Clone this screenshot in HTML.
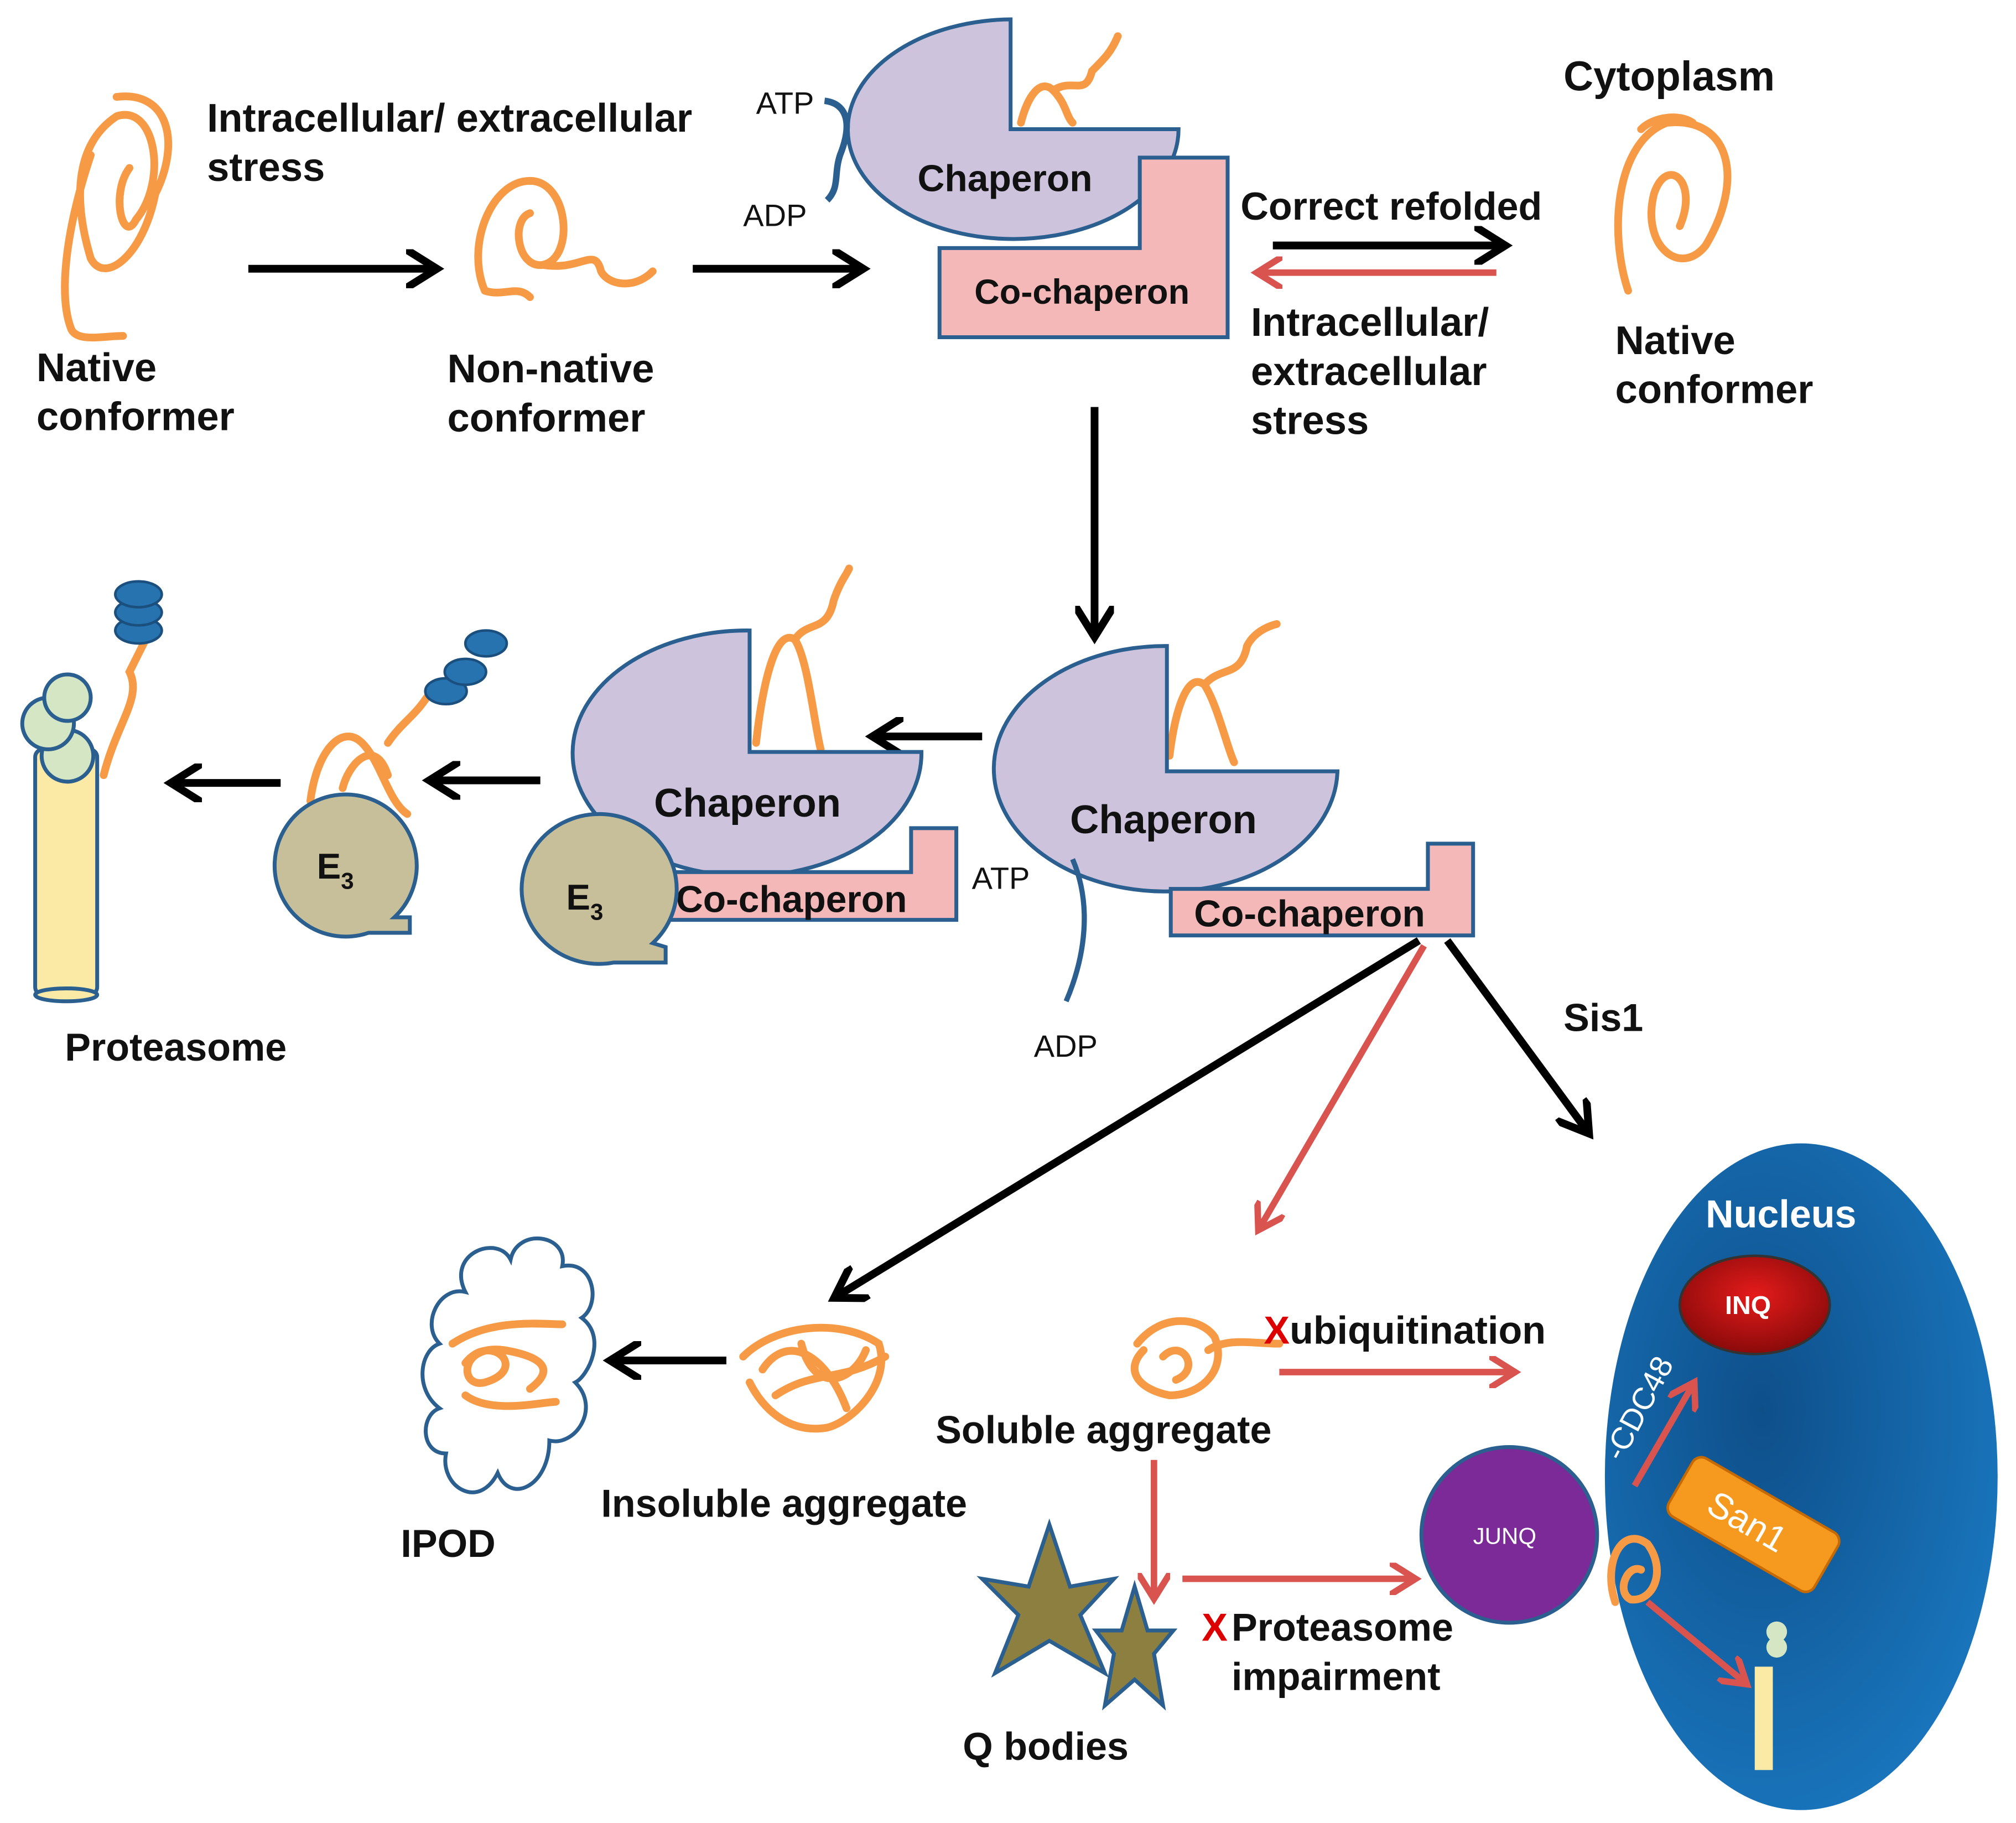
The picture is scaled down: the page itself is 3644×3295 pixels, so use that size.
<!DOCTYPE html>
<html><head><meta charset="utf-8"><style>
html,body{margin:0;padding:0;background:#fff}
svg{display:block}
text{font-family:"Liberation Sans",sans-serif;font-weight:bold;fill:#111}
.n{font-weight:normal}
</style></head><body>
<svg width="3644" height="3295" viewBox="0 0 1560 1411" xmlns="http://www.w3.org/2000/svg">
<defs>
<marker id="ab" viewBox="0 0 10 10" refX="7" refY="5" markerWidth="5" markerHeight="5" orient="auto"><path d="M0,0 L8,5 L0,10" fill="none" stroke="#000" stroke-width="2"/></marker>
<marker id="ar" viewBox="0 0 10 10" refX="7" refY="5" markerWidth="5" markerHeight="5" orient="auto"><path d="M0,0 L8,5 L0,10" fill="none" stroke="#d9534f" stroke-width="2"/></marker>
<radialGradient id="nuc" cx="0.4" cy="0.4" r="0.7"><stop offset="0" stop-color="#0e4f8a"/><stop offset="1" stop-color="#1a78c0"/></radialGradient>
<radialGradient id="inq" cx="0.5" cy="0.4" r="0.6"><stop offset="0" stop-color="#e51b1b"/><stop offset="1" stop-color="#8a0a0a"/></radialGradient>
</defs>
<g stroke="#f79a46" stroke-width="6" fill="none" stroke-linecap="round">
<path d="M90,75 C130,70 140,110 120,150 C110,200 80,220 70,200 C55,150 60,110 90,90 C120,80 130,140 105,170 C95,190 85,150 100,130 M70,120 C50,180 45,230 55,255 C60,265 80,260 95,260"/>
<path d="M375,225 C360,190 380,140 410,140 C440,140 445,200 420,205 C400,208 395,170 410,165 M420,205 C450,210 460,190 465,210 C470,220 490,225 505,210 M375,225 C390,230 400,220 410,230"/>
<path d="M1260,225 C1245,180 1250,110 1290,95 C1340,90 1350,140 1320,190 C1300,215 1270,190 1280,150 C1290,120 1315,140 1300,175 M1270,100 C1280,90 1300,88 1310,95"/>
<path d="M790,95 C795,75 805,60 815,70 C825,80 825,90 830,95 M815,70 C830,60 840,75 845,55 C855,45 860,40 865,28"/>
<path d="M585,575 C590,530 600,485 615,495 C625,510 630,560 635,580 M615,495 C625,480 640,490 645,465 C650,450 655,445 657,440"/>
<path d="M905,585 C910,545 920,520 932,530 C942,545 950,580 955,590 M932,530 C945,515 960,525 965,500 C970,490 980,485 988,483"/>
<path d="M240,620 C245,580 265,560 280,575 C295,590 300,620 315,630 M265,610 C270,590 290,570 300,600 M300,575 C310,560 320,555 330,540"/>
<path d="M80,600 C90,560 110,540 100,520 C105,510 110,500 115,490"/>
<path d="M350,1040 C380,1020 420,1025 435,1025 M360,1055 C380,1030 410,1060 375,1070 C355,1075 355,1040 390,1045 C420,1050 430,1060 410,1075 M360,1080 C380,1095 420,1085 430,1085"/>
<path d="M575,1050 C600,1025 650,1020 680,1040 C690,1070 660,1100 640,1105 C610,1110 590,1090 580,1070 M590,1060 C610,1030 640,1050 655,1090 M620,1040 C630,1080 660,1070 670,1045 M600,1080 C630,1060 650,1070 685,1050"/>
<path d="M880,1040 C900,1015 930,1020 940,1035 C950,1060 930,1080 905,1080 C880,1075 870,1060 885,1045 M900,1050 C915,1035 930,1060 910,1068 M935,1045 C950,1035 970,1040 990,1040"/>
</g>
<!-- top chaperon -->
<path d="M782,15 L782,100 L912,100 A128,85 0 1,1 782,15 Z" fill="#cdc3dd" stroke="#2a5f8f" stroke-width="3"/>
<path d="M727,192 L882,192 L882,122 L950,122 L950,261 L727,261 Z" fill="#f4b8b8" stroke="#2a5f8f" stroke-width="3"/>
<text x="710" y="148" font-size="29">Chaperon</text>
<text x="754" y="235" font-size="27">Co-chaperon</text>
<path d="M638,78 C655,80 660,95 650,120 C645,135 650,145 640,155" stroke="#2a5f8f" stroke-width="5" fill="none"/>
<text x="585" y="88" font-size="24" class="n">ATP</text>
<text x="575" y="175" font-size="24" class="n">ADP</text>
<!-- top texts -->
<text font-size="31"><tspan x="160" y="102">Intracellular/ extracellular</tspan><tspan x="160" y="140">stress</tspan></text>
<text font-size="31"><tspan x="28" y="295">Native</tspan><tspan x="28" y="333">conformer</tspan></text>
<text font-size="31"><tspan x="346" y="296">Non-native</tspan><tspan x="346" y="334">conformer</tspan></text>
<text x="1210" y="70" font-size="32">Cytoplasm</text>
<text x="960" y="170" font-size="30">Correct refolded</text>
<text font-size="31"><tspan x="968" y="260">Intracellular/</tspan><tspan x="968" y="298">extracellular</tspan><tspan x="968" y="336">stress</tspan></text>
<text font-size="31"><tspan x="1250" y="274">Native</tspan><tspan x="1250" y="312">conformer</tspan></text>
<g stroke="#000" stroke-width="6" fill="none">
<line x1="192" y1="208" x2="335" y2="208" marker-end="url(#ab)"/>
<line x1="536" y1="208" x2="665" y2="208" marker-end="url(#ab)"/>
<line x1="985" y1="190" x2="1162" y2="190" marker-end="url(#ab)"/>
<line x1="847" y1="315" x2="847" y2="490" marker-end="url(#ab)"/>
<line x1="760" y1="570" x2="678" y2="570" marker-end="url(#ab)"/>
<line x1="418" y1="604" x2="335" y2="604" marker-end="url(#ab)"/>
<line x1="217" y1="606" x2="135" y2="606" marker-end="url(#ab)"/>
<line x1="1098" y1="728" x2="648" y2="1003" marker-end="url(#ab)"/>
<line x1="1120" y1="728" x2="1228" y2="875" marker-end="url(#ab)"/>
<line x1="562" y1="1053" x2="475" y2="1053" marker-end="url(#ab)"/>
</g>
<g stroke="#d9534f" stroke-width="5" fill="none">
<line x1="1158" y1="211" x2="975" y2="211" marker-end="url(#ar)"/>
<line x1="1102" y1="732" x2="975" y2="950" marker-end="url(#ar)"/>
<line x1="990" y1="1062" x2="1170" y2="1062" marker-end="url(#ar)"/>
<line x1="893" y1="1130" x2="893" y2="1235" marker-end="url(#ar)"/>
<line x1="915" y1="1222" x2="1093" y2="1222" marker-end="url(#ar)"/>
</g>
<!-- middle right chaperon -->
<path d="M903,500 L903,597 L1035,597 A133,95 0 1,1 903,500 Z" fill="#cdc3dd" stroke="#2a5f8f" stroke-width="3"/>
<path d="M906,688 L1105,688 L1105,653 L1140,653 L1140,724 L906,724 Z" fill="#f4b8b8" stroke="#2a5f8f" stroke-width="3"/>
<text x="828" y="645" font-size="31">Chaperon</text>
<text x="924" y="717" font-size="29">Co-chaperon</text>
<path d="M830,665 C845,700 840,740 825,775" stroke="#2a5f8f" stroke-width="4" fill="none"/>
<text x="752" y="688" font-size="24" class="n">ATP</text>
<text x="800" y="818" font-size="24" class="n">ADP</text>
<!-- middle left chaperon -->
<path d="M580,488 L580,582 L713,582 A135,95 0 1,1 580,488 Z" fill="#cdc3dd" stroke="#2a5f8f" stroke-width="3"/>
<path d="M503,675 L705,675 L705,641 L740,641 L740,712 L503,712 Z" fill="#f4b8b8" stroke="#2a5f8f" stroke-width="3"/>
<text x="506" y="632" font-size="31">Chaperon</text>
<text x="523" y="706" font-size="29">Co-chaperon</text>
<path d="M505,730 A60,58 0 1,0 475,745 L515,745 L515,733 Z" fill="#c7bf99" stroke="#2a5f8f" stroke-width="3"/>
<text x="438" y="704" font-size="28">E<tspan font-size="18" dy="8">3</tspan></text>
<path d="M305,710 A55,55 0 1,0 285,722 L317,722 L317,710 Z" fill="#c7bf99" stroke="#2a5f8f" stroke-width="3"/>
<text x="245" y="680" font-size="28">E<tspan font-size="18" dy="8">3</tspan></text>
<!-- ubiquitin -->
<g fill="#2673b0" stroke="#1b4f7e" stroke-width="2">
<ellipse cx="107" cy="488" rx="18" ry="10"/><ellipse cx="107" cy="474" rx="18" ry="10"/><ellipse cx="107" cy="460" rx="18" ry="10"/>
<ellipse cx="345" cy="535" rx="16" ry="10"/><ellipse cx="360" cy="520" rx="16" ry="10"/><ellipse cx="376" cy="498" rx="16" ry="10"/>
</g>
<!-- proteasome -->
<rect x="27" y="580" width="48" height="190" rx="6" fill="#fbe9a6" stroke="#2a5f8f" stroke-width="3"/>
<ellipse cx="51" cy="770" rx="24" ry="5" fill="#fbe9a6" stroke="#2a5f8f" stroke-width="3"/>
<g fill="#d5e6c4" stroke="#2a5f8f" stroke-width="3">
<circle cx="52" cy="585" r="20"/><circle cx="37" cy="560" r="20"/><circle cx="52" cy="540" r="18"/>
</g>
<text x="50" y="821" font-size="30">Proteasome</text>
<text x="1210" y="798" font-size="30">Sis1</text>
<!-- IPOD cloud -->
<path d="M360,1000 C345,970 385,955 395,975 C400,950 440,955 435,980 C460,975 465,1010 450,1020 C470,1035 455,1065 445,1070 C465,1090 445,1120 425,1115 C425,1150 395,1165 385,1140 C370,1170 340,1150 345,1125 C325,1125 325,1095 340,1090 C320,1075 325,1045 340,1040 C325,1025 340,995 360,1000 Z" fill="none" stroke="#2a5f8f" stroke-width="3"/>
<text x="310" y="1205" font-size="30">IPOD</text>
<text x="465" y="1174" font-size="30">Insoluble aggregate</text>
<text x="724" y="1117" font-size="30">Soluble aggregate</text>
<text x="978" y="1040" font-size="30" style="fill:#d00">X</text>
<text x="998" y="1040" font-size="30">ubiquitination</text>
<text x="930" y="1270" font-size="30" style="fill:#d00">X</text>
<text font-size="30"><tspan x="953" y="1270">Proteasome</tspan><tspan x="953" y="1308">impairment</tspan></text>
<!-- stars -->
<path d="M812,1180 L828,1228 L862,1222 L836,1250 L855,1295 L812,1270 L770,1295 L788,1250 L760,1222 L796,1228 Z" fill="#8c7f40" stroke="#2a5f8f" stroke-width="3"/>
<path d="M878,1228 L888,1262 L908,1262 L893,1280 L900,1320 L878,1300 L855,1320 L862,1280 L848,1262 L868,1262 Z" fill="#8c7f40" stroke="#2a5f8f" stroke-width="3"/>
<text x="745" y="1362" font-size="30">Q bodies</text>
<!-- nucleus -->
<ellipse cx="1394" cy="1143" rx="152" ry="258" fill="url(#nuc)"/>
<text x="1320" y="950" font-size="30" style="fill:#fff">Nucleus</text>
<ellipse cx="1358" cy="1010" rx="58" ry="38" fill="url(#inq)" stroke="#333" stroke-width="2"/>
<text x="1335" y="1017" font-size="20" style="fill:#fff">INQ</text>
<circle cx="1168" cy="1188" r="68" fill="#7b2a98" stroke="#2a5f8f" stroke-width="3"/>
<text x="1140" y="1195" font-size="18" class="n" style="fill:#fff">JUNQ</text>
<g transform="translate(1357,1180) rotate(30)"><rect x="-65" y="-26" width="130" height="52" rx="8" fill="#f59a1e" stroke="#c66a00" stroke-width="2"/><text x="-38" y="10" font-size="28" class="n" style="fill:#fff">San1</text></g>
<text transform="translate(1255,1132) rotate(-62)" font-size="24" class="n" style="fill:#fff">-CDC48</text>
<g stroke="#d9534f" stroke-width="5" fill="none">
<line x1="1265" y1="1150" x2="1310" y2="1072" marker-end="url(#ar)"/>
<line x1="1275" y1="1240" x2="1350" y2="1302" marker-end="url(#ar)"/>
</g>
<path d="M1250,1240 C1240,1210 1255,1180 1275,1195 C1290,1215 1280,1240 1262,1238 C1250,1232 1260,1210 1270,1215" stroke="#f79a46" stroke-width="6" fill="none" stroke-linecap="round"/>
<rect x="1358" y="1290" width="14" height="80" fill="#fbe9a6"/>
<g fill="#d5e6c4"><circle cx="1375" cy="1275" r="8"/><circle cx="1375" cy="1263" r="8"/></g>
</svg>
</body></html>
